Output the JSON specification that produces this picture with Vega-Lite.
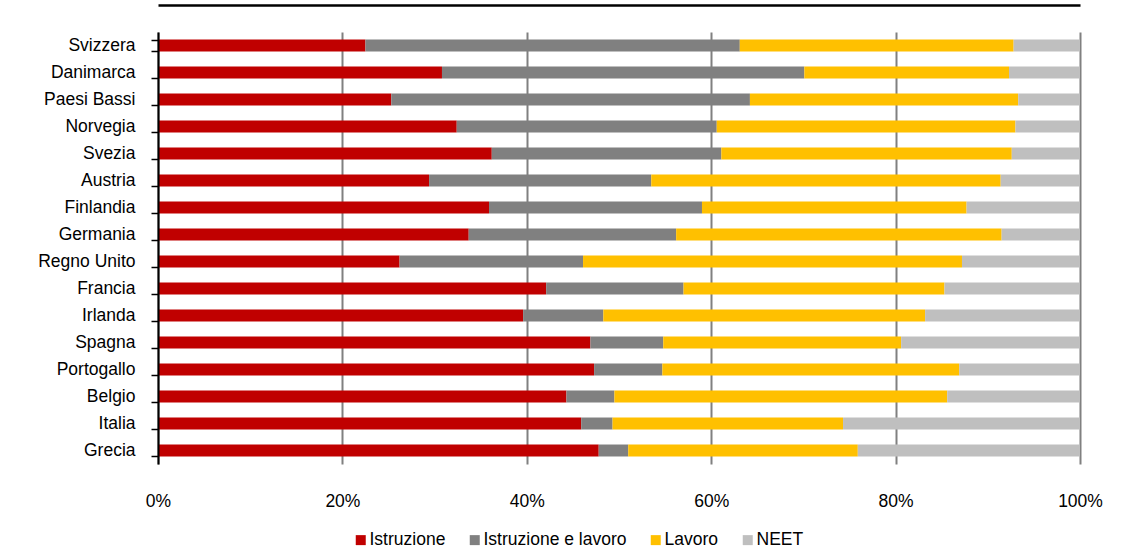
{
  "$schema": "https://vega.github.io/schema/vega-lite/v6.json",
  "width": 922,
  "height": 432,
  "autosize": {"type": "none"},
  "padding": {"left": 158, "top": 32, "right": 56, "bottom": 87},
  "background": "white",
  "config": {
    "font": "Liberation Sans, Arial, sans-serif",
    "view": {"stroke": null}
  },
  "data": {
    "values": [
      {"paese": "Svizzera", "categoria": "Istruzione", "valore": 22.5},
      {"paese": "Svizzera", "categoria": "Istruzione e lavoro", "valore": 40.6},
      {"paese": "Svizzera", "categoria": "Lavoro", "valore": 29.7},
      {"paese": "Svizzera", "categoria": "NEET", "valore": 7.2},
      {"paese": "Danimarca", "categoria": "Istruzione", "valore": 30.8},
      {"paese": "Danimarca", "categoria": "Istruzione e lavoro", "valore": 39.3},
      {"paese": "Danimarca", "categoria": "Lavoro", "valore": 22.2},
      {"paese": "Danimarca", "categoria": "NEET", "valore": 7.7},
      {"paese": "Paesi Bassi", "categoria": "Istruzione", "valore": 25.3},
      {"paese": "Paesi Bassi", "categoria": "Istruzione e lavoro", "valore": 38.9},
      {"paese": "Paesi Bassi", "categoria": "Lavoro", "valore": 29.1},
      {"paese": "Paesi Bassi", "categoria": "NEET", "valore": 6.7},
      {"paese": "Norvegia", "categoria": "Istruzione", "valore": 32.4},
      {"paese": "Norvegia", "categoria": "Istruzione e lavoro", "valore": 28.2},
      {"paese": "Norvegia", "categoria": "Lavoro", "valore": 32.4},
      {"paese": "Norvegia", "categoria": "NEET", "valore": 7.0},
      {"paese": "Svezia", "categoria": "Istruzione", "valore": 36.2},
      {"paese": "Svezia", "categoria": "Istruzione e lavoro", "valore": 24.9},
      {"paese": "Svezia", "categoria": "Lavoro", "valore": 31.5},
      {"paese": "Svezia", "categoria": "NEET", "valore": 7.4},
      {"paese": "Austria", "categoria": "Istruzione", "valore": 29.4},
      {"paese": "Austria", "categoria": "Istruzione e lavoro", "valore": 24.1},
      {"paese": "Austria", "categoria": "Lavoro", "valore": 37.9},
      {"paese": "Austria", "categoria": "NEET", "valore": 8.6},
      {"paese": "Finlandia", "categoria": "Istruzione", "valore": 35.9},
      {"paese": "Finlandia", "categoria": "Istruzione e lavoro", "valore": 23.1},
      {"paese": "Finlandia", "categoria": "Lavoro", "valore": 28.7},
      {"paese": "Finlandia", "categoria": "NEET", "valore": 12.3},
      {"paese": "Germania", "categoria": "Istruzione", "valore": 33.7},
      {"paese": "Germania", "categoria": "Istruzione e lavoro", "valore": 22.5},
      {"paese": "Germania", "categoria": "Lavoro", "valore": 35.3},
      {"paese": "Germania", "categoria": "NEET", "valore": 8.5},
      {"paese": "Regno Unito", "categoria": "Istruzione", "valore": 26.2},
      {"paese": "Regno Unito", "categoria": "Istruzione e lavoro", "valore": 19.9},
      {"paese": "Regno Unito", "categoria": "Lavoro", "valore": 41.1},
      {"paese": "Regno Unito", "categoria": "NEET", "valore": 12.8},
      {"paese": "Francia", "categoria": "Istruzione", "valore": 42.1},
      {"paese": "Francia", "categoria": "Istruzione e lavoro", "valore": 14.9},
      {"paese": "Francia", "categoria": "Lavoro", "valore": 28.3},
      {"paese": "Francia", "categoria": "NEET", "valore": 14.7},
      {"paese": "Irlanda", "categoria": "Istruzione", "valore": 39.6},
      {"paese": "Irlanda", "categoria": "Istruzione e lavoro", "valore": 8.7},
      {"paese": "Irlanda", "categoria": "Lavoro", "valore": 34.9},
      {"paese": "Irlanda", "categoria": "NEET", "valore": 16.8},
      {"paese": "Spagna", "categoria": "Istruzione", "valore": 46.9},
      {"paese": "Spagna", "categoria": "Istruzione e lavoro", "valore": 7.9},
      {"paese": "Spagna", "categoria": "Lavoro", "valore": 25.8},
      {"paese": "Spagna", "categoria": "NEET", "valore": 19.4},
      {"paese": "Portogallo", "categoria": "Istruzione", "valore": 47.3},
      {"paese": "Portogallo", "categoria": "Istruzione e lavoro", "valore": 7.4},
      {"paese": "Portogallo", "categoria": "Lavoro", "valore": 32.2},
      {"paese": "Portogallo", "categoria": "NEET", "valore": 13.1},
      {"paese": "Belgio", "categoria": "Istruzione", "valore": 44.3},
      {"paese": "Belgio", "categoria": "Istruzione e lavoro", "valore": 5.2},
      {"paese": "Belgio", "categoria": "Lavoro", "valore": 36.1},
      {"paese": "Belgio", "categoria": "NEET", "valore": 14.4},
      {"paese": "Italia", "categoria": "Istruzione", "valore": 45.9},
      {"paese": "Italia", "categoria": "Istruzione e lavoro", "valore": 3.4},
      {"paese": "Italia", "categoria": "Lavoro", "valore": 25.0},
      {"paese": "Italia", "categoria": "NEET", "valore": 25.7},
      {"paese": "Grecia", "categoria": "Istruzione", "valore": 47.8},
      {"paese": "Grecia", "categoria": "Istruzione e lavoro", "valore": 3.2},
      {"paese": "Grecia", "categoria": "Lavoro", "valore": 24.9},
      {"paese": "Grecia", "categoria": "NEET", "valore": 24.1}
    ]
  },
  "resolve": {"axis": {"x": "independent"}},
  "layer": [
    {
      "mark": {"type": "bar"},
      "encoding": {
        "y": {
          "field": "paese",
          "type": "nominal",
          "sort": ["Svizzera", "Danimarca", "Paesi Bassi", "Norvegia", "Svezia", "Austria", "Finlandia", "Germania", "Regno Unito", "Francia", "Irlanda", "Spagna", "Portogallo", "Belgio", "Italia", "Grecia"],
          "scale": {"paddingInner": 0.556, "paddingOuter": 0.278},
          "axis": {
            "title": null,
            "domainColor": "black",
            "domainWidth": 2,
            "tickColor": "black",
            "tickWidth": 1.5,
            "tickSize": 7,
            "tickBand": "extent",
            "labelFontSize": 17.5,
            "labelColor": "black",
            "labelPadding": 16,
            "labelLimit": 200,
            "grid": false,
            "zindex": 1
          }
        },
        "x": {
          "field": "valore",
          "type": "quantitative",
          "stack": "normalize",
          "scale": {"domain": [0, 1]},
          "axis": {
            "title": null,
            "format": ".0%",
            "values": [0, 0.2, 0.4, 0.6, 0.8, 1],
            "domain": false,
            "ticks": false,
            "grid": true,
            "gridColor": "#808080",
            "gridWidth": 2,
            "labelFontSize": 17.5,
            "labelColor": "black",
            "labelPadding": 28,
            "labelFlush": false
          }
        },
        "color": {
          "field": "categoria",
          "type": "nominal",
          "scale": {
            "domain": ["Istruzione", "Istruzione e lavoro", "Lavoro", "NEET"],
            "range": ["#C00000", "#808080", "#FFC000", "#BFBFBF"]
          },
          "legend": {
            "title": null,
            "orient": "none",
            "legendX": 194,
            "legendY": 499,
            "direction": "horizontal",
            "symbolType": "square",
            "symbolSize": 100,
            "symbolStrokeWidth": 0,
            "labelFontSize": 17.5,
            "labelLimit": 300,
            "labelColor": "black",
            "labelOffset": 0,
            "columnPadding": 20
          }
        }
      }
    },
    {
      "mark": {"type": "rule", "opacity": 0},
      "encoding": {
        "x": {
          "datum": 0,
          "type": "quantitative",
          "axis": {
            "orient": "top",
            "offset": 27,
            "title": null,
            "domainColor": "black",
            "domainWidth": 2.5,
            "labels": false,
            "ticks": false,
            "grid": false
          }
        }
      }
    }
  ]
}
